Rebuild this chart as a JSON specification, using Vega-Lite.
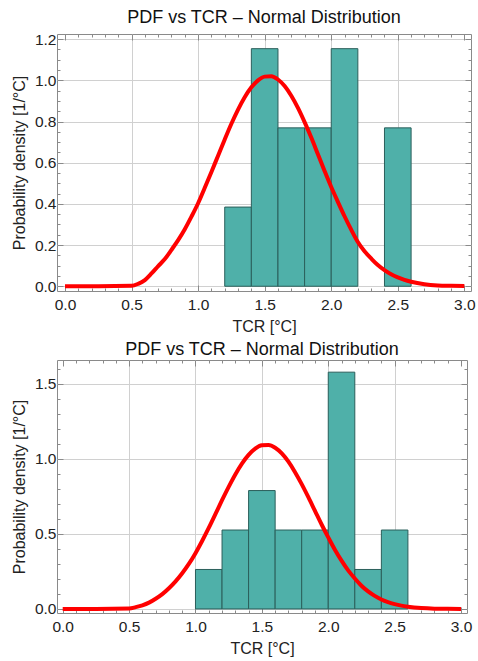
{
  "$schema": "https://vega.github.io/schema/vega-lite/v6.json",
  "background": "white",
  "padding": {"left": 10, "top": 8, "right": 4, "bottom": 4},
  "spacing": 5,
  "datasets": {
    "hist1": [
      {"lo": 1.2, "hi": 1.4, "density": 0.3846},
      {"lo": 1.4, "hi": 1.6, "density": 1.1538},
      {"lo": 1.6, "hi": 1.8, "density": 0.7692},
      {"lo": 1.8, "hi": 2.0, "density": 0.7692},
      {"lo": 2.0, "hi": 2.2, "density": 1.1538},
      {"lo": 2.4, "hi": 2.6, "density": 0.7692}
    ],
    "curve1": [
      {"x": 0.0, "pdf": 0.0}, {"x": 0.25, "pdf": 0.0}, {"x": 0.5, "pdf": 0.002},
      {"x": 0.55, "pdf": 0.012}, {"x": 0.6, "pdf": 0.03}, {"x": 0.65, "pdf": 0.062},
      {"x": 0.7, "pdf": 0.098}, {"x": 0.75, "pdf": 0.132}, {"x": 0.8, "pdf": 0.177},
      {"x": 0.85, "pdf": 0.224}, {"x": 0.9, "pdf": 0.277}, {"x": 0.95, "pdf": 0.338},
      {"x": 1.0, "pdf": 0.403}, {"x": 1.05, "pdf": 0.478}, {"x": 1.1, "pdf": 0.555},
      {"x": 1.15, "pdf": 0.634}, {"x": 1.2, "pdf": 0.713}, {"x": 1.25, "pdf": 0.789},
      {"x": 1.3, "pdf": 0.858}, {"x": 1.35, "pdf": 0.918}, {"x": 1.4, "pdf": 0.966},
      {"x": 1.45, "pdf": 1.0}, {"x": 1.5, "pdf": 1.018}, {"x": 1.55, "pdf": 1.02},
      {"x": 1.6, "pdf": 1.004}, {"x": 1.65, "pdf": 0.972}, {"x": 1.7, "pdf": 0.925},
      {"x": 1.75, "pdf": 0.866}, {"x": 1.8, "pdf": 0.797}, {"x": 1.85, "pdf": 0.722},
      {"x": 1.9, "pdf": 0.641}, {"x": 1.95, "pdf": 0.56}, {"x": 2.0, "pdf": 0.482},
      {"x": 2.05, "pdf": 0.41}, {"x": 2.1, "pdf": 0.34}, {"x": 2.15, "pdf": 0.275},
      {"x": 2.2, "pdf": 0.215}, {"x": 2.25, "pdf": 0.17}, {"x": 2.3, "pdf": 0.135},
      {"x": 2.35, "pdf": 0.103}, {"x": 2.4, "pdf": 0.078}, {"x": 2.45, "pdf": 0.058},
      {"x": 2.5, "pdf": 0.043}, {"x": 2.55, "pdf": 0.031}, {"x": 2.6, "pdf": 0.022},
      {"x": 2.7, "pdf": 0.01}, {"x": 2.8, "pdf": 0.004}, {"x": 2.9, "pdf": 0.002},
      {"x": 3.0, "pdf": 0.001}
    ],
    "hist2": [
      {"lo": 1.0, "hi": 1.2, "density": 0.2632},
      {"lo": 1.2, "hi": 1.4, "density": 0.5263},
      {"lo": 1.4, "hi": 1.6, "density": 0.7895},
      {"lo": 1.6, "hi": 1.8, "density": 0.5263},
      {"lo": 1.8, "hi": 2.0, "density": 0.5263},
      {"lo": 2.0, "hi": 2.2, "density": 1.5789},
      {"lo": 2.2, "hi": 2.4, "density": 0.2632},
      {"lo": 2.4, "hi": 2.6, "density": 0.5263}
    ],
    "curve2": [
      {"x": 0.0, "pdf": 0.0}, {"x": 0.25, "pdf": 0.0}, {"x": 0.5, "pdf": 0.003},
      {"x": 0.55, "pdf": 0.012}, {"x": 0.6, "pdf": 0.024}, {"x": 0.65, "pdf": 0.042},
      {"x": 0.7, "pdf": 0.068}, {"x": 0.75, "pdf": 0.099}, {"x": 0.8, "pdf": 0.138},
      {"x": 0.85, "pdf": 0.184}, {"x": 0.9, "pdf": 0.238}, {"x": 0.95, "pdf": 0.3},
      {"x": 1.0, "pdf": 0.372}, {"x": 1.05, "pdf": 0.453}, {"x": 1.1, "pdf": 0.54},
      {"x": 1.15, "pdf": 0.632}, {"x": 1.2, "pdf": 0.725}, {"x": 1.25, "pdf": 0.814},
      {"x": 1.3, "pdf": 0.897}, {"x": 1.35, "pdf": 0.969}, {"x": 1.4, "pdf": 1.027},
      {"x": 1.45, "pdf": 1.069}, {"x": 1.5, "pdf": 1.091}, {"x": 1.55, "pdf": 1.093},
      {"x": 1.6, "pdf": 1.075}, {"x": 1.65, "pdf": 1.037}, {"x": 1.7, "pdf": 0.982},
      {"x": 1.75, "pdf": 0.912}, {"x": 1.8, "pdf": 0.832}, {"x": 1.85, "pdf": 0.745},
      {"x": 1.9, "pdf": 0.654}, {"x": 1.95, "pdf": 0.563}, {"x": 2.0, "pdf": 0.477},
      {"x": 2.05, "pdf": 0.395}, {"x": 2.1, "pdf": 0.322}, {"x": 2.15, "pdf": 0.257},
      {"x": 2.2, "pdf": 0.203}, {"x": 2.25, "pdf": 0.155}, {"x": 2.3, "pdf": 0.117},
      {"x": 2.35, "pdf": 0.087}, {"x": 2.4, "pdf": 0.063}, {"x": 2.45, "pdf": 0.045},
      {"x": 2.5, "pdf": 0.032}, {"x": 2.55, "pdf": 0.022}, {"x": 2.6, "pdf": 0.015},
      {"x": 2.7, "pdf": 0.006}, {"x": 2.8, "pdf": 0.002}, {"x": 2.9, "pdf": 0.001},
      {"x": 3.0, "pdf": 0.0}
    ]
  },
  "vconcat": [
    {
      "width": 414,
      "height": 257,
      "title": {"text": "PDF vs TCR – Normal Distribution", "offset": 5},
      "resolve": {"axis": {"x": "independent", "y": "independent"}},
      "layer": [
        {
          "data": {"name": "hist1"},
          "mark": {"type": "bar", "fill": "#4fb0a9", "stroke": "#2b5f5b", "strokeWidth": 1},
          "encoding": {
            "x": {"field": "lo", "type": "quantitative", "title": "TCR [°C]",
                  "scale": {"domain": [-0.06, 3.05], "nice": false, "zero": false},
                  "axis": {
                    "orient": "bottom",
                    "values": [0,0.1,0.2,0.3,0.4,0.5,0.6,0.7,0.8,0.9,1,1.1,1.2,1.3,1.4,1.5,1.6,1.7,1.8,1.9,2,2.1,2.2,2.3,2.4,2.5,2.6,2.7,2.8,2.9,3],
                    "tickCount": 500,
                    "labelExpr": "indexof([0,0.5,1,1.5,2,2.5,3], datum.value) >= 0 ? format(datum.value,'.1f') : ''",
                    "gridOpacity": {"condition": {"test": "indexof([0.5,1,1.5,2,2.5], datum.value) >= 0", "value": 1}, "value": 0},
                    "tickSize": {"condition": {"test": "indexof([0,0.5,1,1.5,2,2.5,3], datum.value) >= 0", "value": -6}, "value": -3}
                  }},
            "x2": {"field": "hi"},
            "y": {"field": "density", "type": "quantitative", "title": "Probability density [1/°C]",
                  "scale": {"domain": [-0.023, 1.225], "nice": false, "zero": false},
                  "axis": {
                    "orient": "left",
                    "values": [0,0.05,0.1,0.15,0.2,0.25,0.3,0.35,0.4,0.45,0.5,0.55,0.6,0.65,0.7,0.75,0.8,0.85,0.9,0.95,1,1.05,1.1,1.15,1.2],
                    "tickCount": 500,
                    "labelExpr": "indexof([0,0.2,0.4,0.6,0.8,1,1.2], datum.value) >= 0 ? format(datum.value,'.1f') : ''",
                    "gridOpacity": {"condition": {"test": "indexof([0,0.2,0.4,0.6,0.8,1,1.2], datum.value) >= 0", "value": 1}, "value": 0},
                    "tickSize": {"condition": {"test": "indexof([0,0.2,0.4,0.6,0.8,1,1.2], datum.value) >= 0", "value": -6}, "value": -3}
                  }},
            "y2": {"datum": 0}
          }
        },
        {
          "data": {"name": "curve1"},
          "mark": {"type": "line", "color": "#ff0000", "strokeWidth": 4, "interpolate": "monotone"},
          "encoding": {
            "x": {"field": "x", "type": "quantitative",
                  "axis": {"orient": "top", "labels": false, "title": null, "grid": false,
                    "values": [0,0.1,0.2,0.3,0.4,0.5,0.6,0.7,0.8,0.9,1,1.1,1.2,1.3,1.4,1.5,1.6,1.7,1.8,1.9,2,2.1,2.2,2.3,2.4,2.5,2.6,2.7,2.8,2.9,3],
                    "tickCount": 500,
                    "tickSize": {"condition": {"test": "indexof([0,0.5,1,1.5,2,2.5,3], datum.value) >= 0", "value": -6}, "value": -3}}},
            "y": {"field": "pdf", "type": "quantitative",
                  "axis": {"orient": "right", "labels": false, "title": null, "grid": false,
                    "values": [0,0.05,0.1,0.15,0.2,0.25,0.3,0.35,0.4,0.45,0.5,0.55,0.6,0.65,0.7,0.75,0.8,0.85,0.9,0.95,1,1.05,1.1,1.15,1.2],
                    "tickCount": 500,
                    "tickSize": {"condition": {"test": "indexof([0,0.2,0.4,0.6,0.8,1,1.2], datum.value) >= 0", "value": -6}, "value": -3}}}
          }
        }
      ]
    },
    {
      "width": 410,
      "height": 253,
      "title": {"text": "PDF vs TCR – Normal Distribution", "offset": 1},
      "resolve": {"axis": {"x": "independent", "y": "independent"}},
      "layer": [
        {
          "data": {"name": "hist2"},
          "mark": {"type": "bar", "fill": "#4fb0a9", "stroke": "#2b5f5b", "strokeWidth": 1},
          "encoding": {
            "x": {"field": "lo", "type": "quantitative", "title": "TCR [°C]",
                  "scale": {"domain": [-0.043, 3.045], "nice": false, "zero": false},
                  "axis": {
                    "orient": "bottom",
                    "values": [0,0.1,0.2,0.3,0.4,0.5,0.6,0.7,0.8,0.9,1,1.1,1.2,1.3,1.4,1.5,1.6,1.7,1.8,1.9,2,2.1,2.2,2.3,2.4,2.5,2.6,2.7,2.8,2.9,3],
                    "tickCount": 500,
                    "labelExpr": "indexof([0,0.5,1,1.5,2,2.5,3], datum.value) >= 0 ? format(datum.value,'.1f') : ''",
                    "gridOpacity": {"condition": {"test": "indexof([0.5,1,1.5,2,2.5], datum.value) >= 0", "value": 1}, "value": 0},
                    "tickSize": {"condition": {"test": "indexof([0,0.5,1,1.5,2,2.5,3], datum.value) >= 0", "value": -6}, "value": -3}
                  }},
            "x2": {"field": "hi"},
            "y": {"field": "density", "type": "quantitative", "title": "Probability density [1/°C]",
                  "scale": {"domain": [-0.027, 1.66], "nice": false, "zero": false},
                  "axis": {
                    "orient": "left",
                    "values": [0,0.1,0.2,0.3,0.4,0.5,0.6,0.7,0.8,0.9,1,1.1,1.2,1.3,1.4,1.5,1.6],
                    "tickCount": 500,
                    "labelExpr": "indexof([0,0.5,1,1.5], datum.value) >= 0 ? format(datum.value,'.1f') : ''",
                    "gridOpacity": {"condition": {"test": "indexof([0,0.5,1,1.5], datum.value) >= 0", "value": 1}, "value": 0},
                    "tickSize": {"condition": {"test": "indexof([0,0.5,1,1.5], datum.value) >= 0", "value": -6}, "value": -3}
                  }},
            "y2": {"datum": 0}
          }
        },
        {
          "data": {"name": "curve2"},
          "mark": {"type": "line", "color": "#ff0000", "strokeWidth": 4, "interpolate": "monotone"},
          "encoding": {
            "x": {"field": "x", "type": "quantitative",
                  "axis": {"orient": "top", "labels": false, "title": null, "grid": false,
                    "values": [0,0.1,0.2,0.3,0.4,0.5,0.6,0.7,0.8,0.9,1,1.1,1.2,1.3,1.4,1.5,1.6,1.7,1.8,1.9,2,2.1,2.2,2.3,2.4,2.5,2.6,2.7,2.8,2.9,3],
                    "tickCount": 500,
                    "tickSize": {"condition": {"test": "indexof([0,0.5,1,1.5,2,2.5,3], datum.value) >= 0", "value": -6}, "value": -3}}},
            "y": {"field": "pdf", "type": "quantitative",
                  "axis": {"orient": "right", "labels": false, "title": null, "grid": false,
                    "values": [0,0.1,0.2,0.3,0.4,0.5,0.6,0.7,0.8,0.9,1,1.1,1.2,1.3,1.4,1.5,1.6],
                    "tickCount": 500,
                    "tickSize": {"condition": {"test": "indexof([0,0.5,1,1.5], datum.value) >= 0", "value": -6}, "value": -3}}}
          }
        }
      ]
    }
  ],
  "config": {
    "font": "Liberation Sans",
    "view": {"stroke": "#8a8a8a", "strokeWidth": 1},
    "title": {"fontSize": 18, "fontWeight": "normal", "font": "Liberation Sans", "color": "#111"},
    "axis": {
      "labelFont": "Liberation Sans", "labelFontSize": 15.5, "labelColor": "#222",
      "titleFont": "Liberation Sans", "titleFontSize": 16, "titleFontWeight": "normal", "titleColor": "#222",
      "gridColor": "#d0d0d0", "gridWidth": 1,
      "tickColor": "#8a8a8a", "domain": false,
      "labelFlush": false, "labelOverlap": false, "labelPadding": 7
    },
    "axisX": {"titlePadding": 3, "labelPadding": 12},
    "axisY": {"titlePadding": 7}
  }
}
